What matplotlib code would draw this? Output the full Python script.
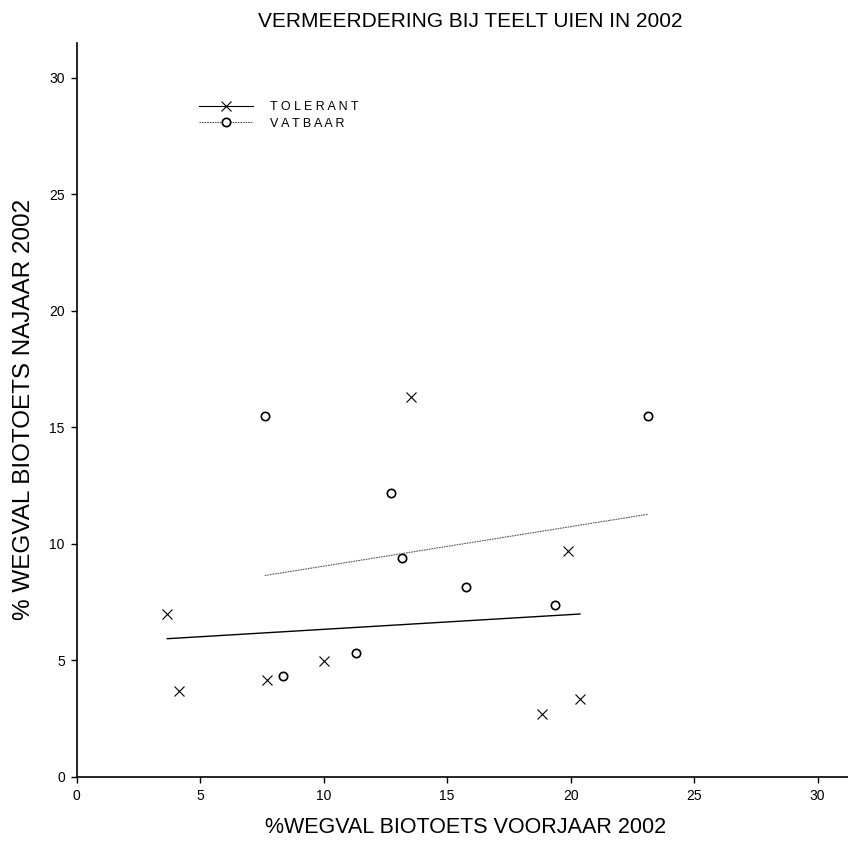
import numpy as np
import matplotlib
matplotlib.use("Agg")
import matplotlib.pyplot as plt
from matplotlib.lines import Line2D

plt.rcParams["font.family"] = ["Liberation Sans", "DejaVu Sans"]

# Waarden
tolerant_voorjaar = [3.67, 4.13, 7.69, 10.01, 13.53, 18.85, 19.88, 20.38]
tolerant_najaar = [6.99, 3.68, 4.15, 4.99, 16.31, 2.69, 9.68, 3.33]
vatbaar_voorjaar = [7.62, 8.36, 11.30, 12.71, 13.18, 15.75, 19.36, 23.14]
vatbaar_najaar = [15.49, 4.33, 5.33, 12.20, 9.38, 8.14, 7.38, 15.49]

tolerant_trend = (5.70, 0.0634)
vatbaar_trend = (7.35, 0.1695)

ticks = [0, 5, 10, 15, 20, 25, 30]

fig = plt.figure(figsize=(8.48, 8.42), dpi=100)
ax = fig.add_axes([0.0904, 0.0772, 0.9175, 0.8721])

# --- punten ---
ax.plot(tolerant_voorjaar, tolerant_najaar, linestyle="none", marker="x",
        markersize=7, markeredgewidth=0.8, color="black")
ax.plot(vatbaar_voorjaar, vatbaar_najaar, linestyle="none", marker="o",
        markersize=6, markeredgewidth=1.2, markerfacecolor="white",
        markeredgecolor="black")

# --- trendlijnen over het bereik van de data ---
xt = np.array([min(tolerant_voorjaar), max(tolerant_voorjaar)])
ax.plot(xt, tolerant_trend[0] + tolerant_trend[1] * xt, color="black", linewidth=1.0)
xv = np.array([min(vatbaar_voorjaar), max(vatbaar_voorjaar)])
ax.plot(xv, vatbaar_trend[0] + vatbaar_trend[1] * xv, color="#555555",
        linewidth=0.8, linestyle=(0, (1.5, 0.8)))

ax.set_xlim(0, 31.5)
ax.set_ylim(0, 31.5)
ax.set_xticks(ticks)
ax.set_yticks(ticks)
ax.tick_params(direction="out", length=4.5, width=1.0, labelsize=10, pad=4)
for s in ["top", "right"]:
    ax.spines[s].set_visible(False)
for s in ["left", "bottom"]:
    ax.spines[s].set_linewidth(1.2)

ax.set_xlabel("%WEGVAL BIOTOETS VOORJAAR 2002", fontsize=15.5, labelpad=10)
ax.set_ylabel("% WEGVAL BIOTOETS NAJAAR 2002", fontsize=17.5, labelpad=10)
fig.text(0.555, 0.975, "VERMEERDERING BIJ TEELT UIEN IN 2002", fontsize=15,
         ha="center", va="center")

# --- legenda ---
handles = [
    Line2D([], [], color="black", linewidth=0.8, marker="x", markersize=7,
           markeredgewidth=0.8),
    Line2D([], [], color="#555555", linewidth=0.8, linestyle=(0, (1.5, 0.8)),
           marker="o", markersize=6, markerfacecolor="white",
           markeredgecolor="black", markeredgewidth=1.2),
]
ax.legend(handles, ["T O L E R A N T", "V A T B A A R"], loc="upper left",
          bbox_to_anchor=(0.157, 0.92), frameon=False, fontsize=9,
          borderpad=0, borderaxespad=0, handlelength=4.3, handletextpad=1.4,
          labelspacing=0.35, numpoints=1)

fig.savefig("out.png", dpi=100)
